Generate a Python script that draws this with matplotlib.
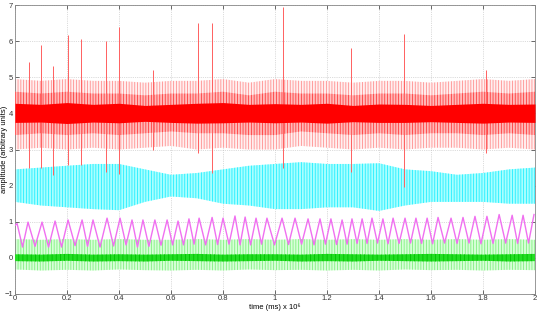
import matplotlib

matplotlib.use("Agg")
import matplotlib.pyplot as plt

plt.rcParams["font.family"] = ["Liberation Sans", "DejaVu Sans"]
plt.rcParams["hatch.linewidth"] = 0.6

# envelope sample times (time in ms x 1e6)
env_t = [0.0, 0.1, 0.2, 0.3, 0.4, 0.5, 0.6, 0.7, 0.8, 0.9, 1.0,
         1.1, 1.2, 1.3, 1.4, 1.5, 1.6, 1.7, 1.8, 1.9, 2.0]

# red channel (around 4)
red_outer_top = [4.95, 4.9, 4.95, 4.9, 4.9, 4.85, 4.9, 4.9, 4.95, 4.85, 4.95,
                 4.9, 4.9, 4.85, 4.9, 4.9, 4.85, 4.9, 4.95, 4.9, 4.95]
red_outer_bot = [3.0, 3.05, 3.0, 3.05, 3.0, 3.05, 3.1, 3.0, 3.05, 3.0, 3.0,
                 3.1, 3.05, 3.0, 3.05, 3.0, 3.05, 3.05, 3.0, 3.05, 3.0]
red_mid_top = [4.6, 4.55, 4.6, 4.55, 4.55, 4.5, 4.55, 4.55, 4.6, 4.5, 4.6,
               4.55, 4.55, 4.5, 4.55, 4.55, 4.5, 4.55, 4.6, 4.55, 4.6]
red_mid_bot = [3.4, 3.45, 3.4, 3.45, 3.4, 3.45, 3.5, 3.45, 3.45, 3.4, 3.4,
               3.5, 3.45, 3.4, 3.45, 3.4, 3.45, 3.45, 3.4, 3.45, 3.4]
red_core_top = [4.28, 4.25, 4.3, 4.25, 4.28, 4.22, 4.25, 4.28, 4.3, 4.25, 4.27,
                4.25, 4.28, 4.22, 4.26, 4.25, 4.22, 4.25, 4.28, 4.25, 4.26]
red_core_bot = [3.75, 3.76, 3.72, 3.76, 3.74, 3.78, 3.75, 3.73, 3.74, 3.76, 3.74,
                3.76, 3.73, 3.77, 3.75, 3.75, 3.77, 3.75, 3.73, 3.76, 3.75]

# large excursions of the red channel
spike_t = [0.054, 0.10, 0.146, 0.204, 0.254, 0.35, 0.40, 0.53, 0.704,
           0.758, 1.03, 1.292, 1.496, 1.81, 1.998]
spike_top = [5.43, 5.9, 5.3, 6.17, 6.06, 6.0, 6.4, 5.2, 6.5,
             6.5, 6.95, 5.8, 6.2, 5.2, 5.37]
spike_bot = [2.5, 2.5, 2.3, 2.57, 2.57, 2.38, 2.32, 3.0, 2.9,
             2.35, 2.49, 2.38, 1.96, 2.9, 2.49]

# cyan channel (around 2)
cyan_top = [2.45, 2.5, 2.55, 2.6, 2.6, 2.45, 2.3, 2.35, 2.45, 2.55, 2.6,
            2.65, 2.6, 2.6, 2.62, 2.45, 2.4, 2.3, 2.35, 2.45, 2.5]
cyan_bot = [1.55, 1.45, 1.4, 1.35, 1.32, 1.55, 1.7, 1.65, 1.5, 1.45, 1.35,
            1.35, 1.4, 1.4, 1.3, 1.45, 1.55, 1.55, 1.55, 1.5, 1.5]

# magenta channel: peaks and troughs
mag_peak_t = [0.008, 0.050, 0.104, 0.154, 0.204, 0.258, 0.300, 0.354, 0.404,
              0.450, 0.492, 0.538, 0.585, 0.627, 0.669, 0.708, 0.758, 0.800,
              0.846, 0.885, 0.927, 0.969, 1.027, 1.077, 1.127, 1.173, 1.215,
              1.258, 1.296, 1.335, 1.373, 1.415, 1.454, 1.500, 1.542, 1.585,
              1.627, 1.677, 1.723, 1.769, 1.815, 1.862, 1.912, 1.954, 1.996]
mag_peak = [0.95, 0.99, 0.99, 1.02, 1.05, 1.05, 1.05, 1.1, 1.1, 1.05, 1.05,
            1.05, 1.05, 1.02, 1.08, 1.1, 1.12, 1.1, 1.16, 1.13, 1.1, 1.1,
            1.1, 1.1, 1.08, 1.08, 1.08, 1.05, 1.08, 1.08, 1.1, 1.08, 1.1,
            1.1, 1.1, 1.1, 1.12, 1.1, 1.12, 1.15, 1.15, 1.2, 1.18, 1.18, 1.2]
mag_trough = [0.30, 0.32, 0.30, 0.30, 0.34, 0.32, 0.30, 0.33, 0.36, 0.30,
              0.32, 0.35, 0.36, 0.36, 0.38, 0.36, 0.37, 0.38, 0.36, 0.36,
              0.38, 0.36, 0.37, 0.38, 0.36, 0.38, 0.37, 0.38, 0.40, 0.40,
              0.41, 0.39, 0.40, 0.41, 0.40, 0.39, 0.41, 0.40, 0.41, 0.39,
              0.40, 0.41, 0.40, 0.41]

# green channel (around 0)
green_outer_top = [0.52, 0.5, 0.52, 0.5, 0.52, 0.5, 0.5, 0.52, 0.5, 0.52, 0.5,
                   0.52, 0.5, 0.52, 0.5, 0.52, 0.5, 0.52, 0.5, 0.52, 0.5]
green_outer_bot = [-0.32, -0.35, -0.33, -0.35, -0.32, -0.34, -0.35, -0.33, -0.35,
                   -0.32, -0.34, -0.33, -0.35, -0.33, -0.35, -0.32, -0.34, -0.33,
                   -0.35, -0.33, -0.34]
green_core_top = [0.1, 0.09, 0.11, 0.09, 0.1, 0.09, 0.1, 0.11, 0.09, 0.1, 0.1,
                  0.09, 0.11, 0.1, 0.09, 0.1, 0.11, 0.1, 0.09, 0.1, 0.11]
green_core_bot = [-0.09, -0.1, -0.08, -0.1, -0.09, -0.1, -0.08, -0.09, -0.1,
                  -0.09, -0.08, -0.1, -0.09, -0.1, -0.08, -0.09, -0.1, -0.09,
                  -0.08, -0.1, -0.09]

x_ticks = [0, 0.2, 0.4, 0.6, 0.8, 1, 1.2, 1.4, 1.6, 1.8, 2]
x_tick_labels = ["0", "0.2", "0.4", "0.6", "0.8", "1", "1.2", "1.4", "1.6", "1.8", "2"]
y_ticks = [-1, 0, 1, 2, 3, 4, 5, 6, 7]


def band(ax, t, lo, hi, face, hatch_col, hatch="||||||", z=2):
    ax.fill_between(t, lo, hi, facecolor=face, edgecolor=hatch_col, hatch=hatch,
                    linewidth=0, zorder=z)


fig = plt.figure(figsize=(5.4, 3.14), dpi=100)
ax = fig.add_axes([0.0278, 0.0637, 0.963, 0.9203])

# red
band(ax, env_t, red_outer_bot, red_outer_top, "#fff0f0", "#ff9090", z=2)
band(ax, env_t, red_mid_bot, red_mid_top, "#ffb8b8", "#ff3a3a", z=3)
ax.vlines(spike_t, spike_bot, spike_top, color="#ff6060", linewidth=0.7, zorder=3)
band(ax, env_t, red_core_bot, red_core_top, "#ff0000", "#ff0000", hatch=None, z=4)

# cyan
band(ax, env_t, cyan_bot, cyan_top, "#a8ffff", "#22eeff", z=2)

# green
band(ax, env_t, green_outer_bot, green_outer_top, "#d8ffd8", "#80f080", z=2)
band(ax, env_t, green_core_bot, green_core_top, "#22dd22", "#00c000", hatch="||||", z=3)

# magenta zig-zag through peaks and troughs
mag_t, mag_v = [0.0], [0.9]
for i, (pt, pv) in enumerate(zip(mag_peak_t, mag_peak)):
    mag_t.append(pt)
    mag_v.append(pv)
    if i < len(mag_trough):
        mag_t.append((pt + mag_peak_t[i + 1]) / 2)
        mag_v.append(mag_trough[i])
ax.plot(mag_t, mag_v, color="#f070f0", linewidth=1.0, zorder=5)

ax.set_xlim(0, 2)
ax.set_ylim(-1, 7)
ax.set_xticks(x_ticks)
ax.set_xticklabels(x_tick_labels)
ax.set_yticks(y_ticks)
ax.tick_params(direction="in", length=3, width=0.5, labelsize=5.5, pad=1.5,
               top=True, right=True, colors="#333333")
ax.tick_params(axis="x", pad=0.5)
ax.grid(True, linestyle=":", linewidth=0.5, color="#bbbbbb", zorder=0)
ax.set_axisbelow(True)
for s in ax.spines.values():
    s.set_linewidth(0.6)
    s.set_color("#888888")

ax.set_xlabel("time (ms) x 10\u2076", fontsize=5.5)
ax.xaxis.set_label_coords(0.5, -0.033)
ax.set_ylabel("amplitude (arbitrary units)", fontsize=5.5)
ax.yaxis.set_label_coords(-0.013, 0.5)

fig.savefig("out.png", dpi=100)
